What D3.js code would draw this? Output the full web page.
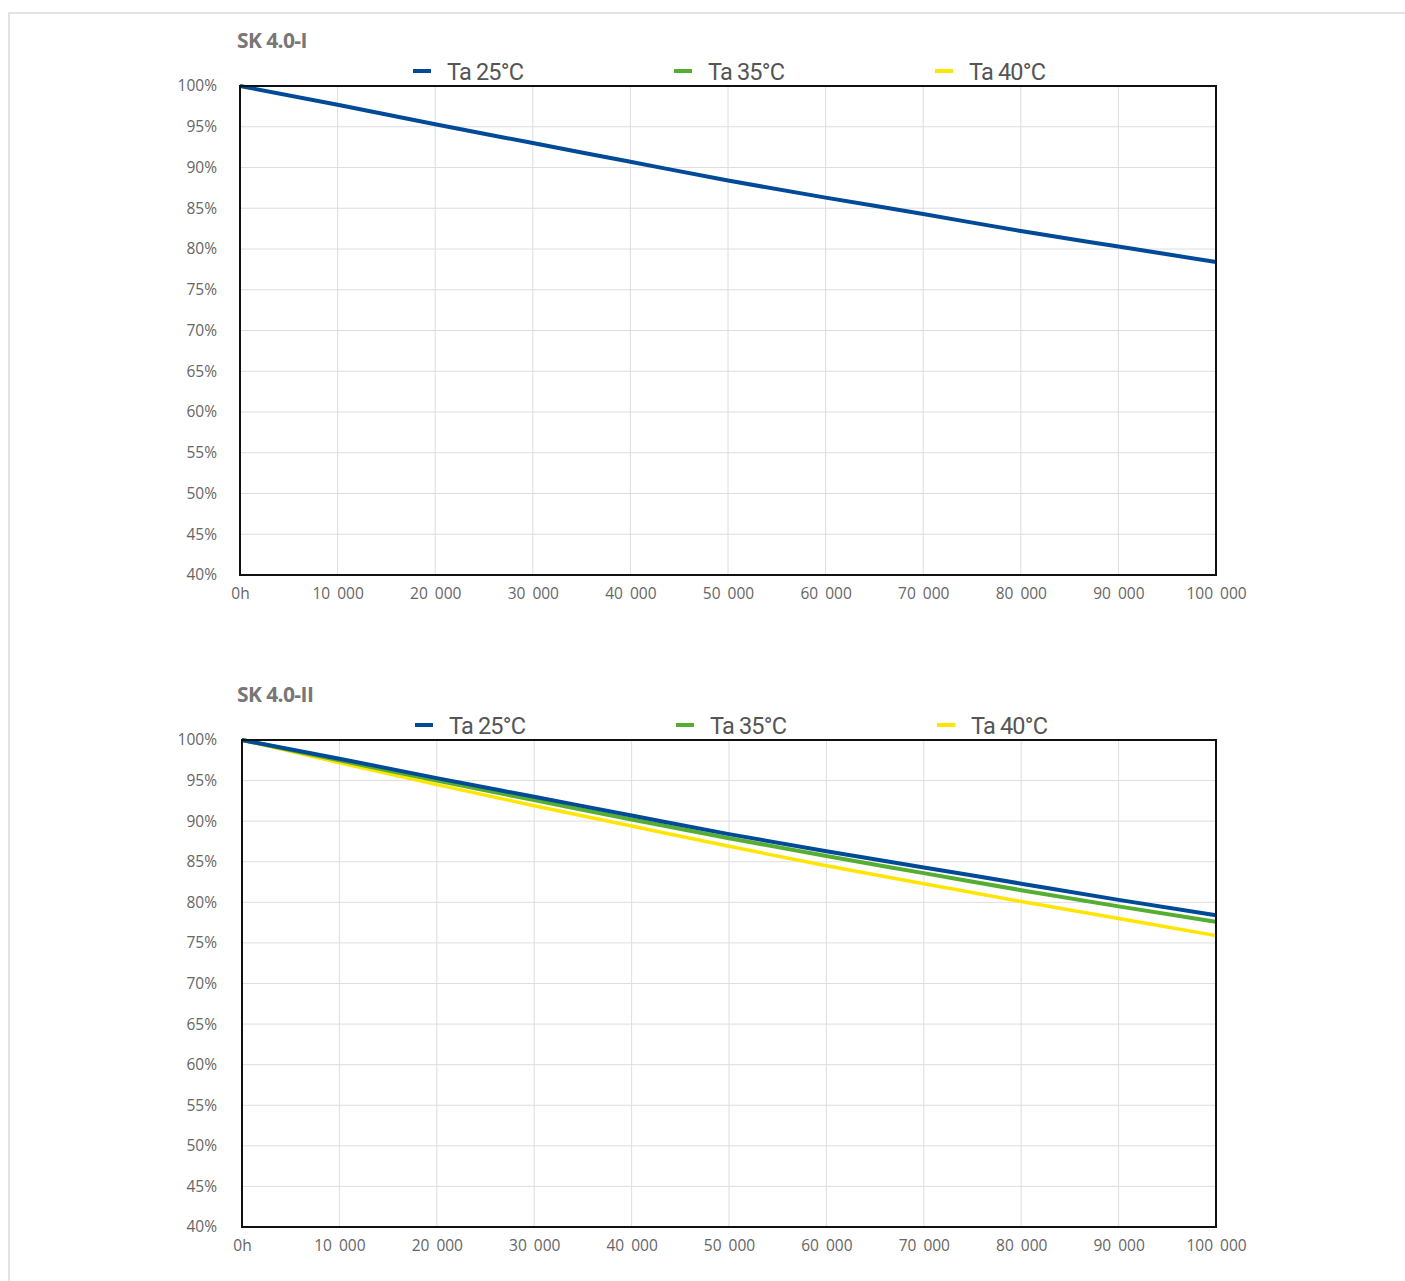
<!DOCTYPE html>
<html>
<head>
<meta charset="utf-8">
<script src="https://cdn.jsdelivr.net/npm/d3@7"></script>
<style>
  body { margin: 0; background: #fff; }
  #frame { position: absolute; left: 8px; top: 12px; width: 1420px; height: 1300px;
           border-left: 2px solid #e3e3e3; border-top: 2px solid #e3e3e3; }
  svg { position: absolute; left: 0; top: 0; }
</style>
</head>
<body>
<div id="frame"></div>
<svg id="chart" width="1405" height="1281"></svg>
<script>
// hours on x axis
const hours = [0, 10000, 20000, 30000, 40000, 50000, 60000, 70000, 80000, 90000, 100000];
const xTickLabels = ['0h', '10 000', '20 000', '30 000', '40 000', '50 000', '60 000', '70 000', '80 000', '90 000', '100 000'];
const yTicks = [40, 45, 50, 55, 60, 65, 70, 75, 80, 85, 90, 95, 100];

const seriesNames = ['Ta 25°C', 'Ta 35°C', 'Ta 40°C'];
const seriesColors = ['#004a98', '#55ad32', '#ffe500'];

// SK 4.0-I : only 25°C drawn
const sk1Ta25 = [100, 97.7, 95.3, 93.0, 90.7, 88.4, 86.3, 84.3, 82.2, 80.3, 78.4];

// SK 4.0-II
const sk2Ta25 = [100, 97.7, 95.3, 93.0, 90.7, 88.4, 86.3, 84.3, 82.3, 80.3, 78.4];
const sk2Ta35 = [100, 97.5, 95.0, 92.6, 90.2, 87.9, 85.7, 83.6, 81.5, 79.5, 77.6];
const sk2Ta40 = [100, 97.2, 94.5, 91.9, 89.4, 86.9, 84.5, 82.3, 80.1, 78.0, 75.9];

const svg = d3.select('#chart');

function drawChart(cfg) {
  const g = svg.append('g');
  const x = d3.scaleLinear().domain([0, 100000]).range([cfg.left, cfg.right]);
  const y = d3.scaleLinear().domain([40, 100]).range([cfg.bottom, cfg.top]);

  // title
  g.append('text').text(cfg.title)
    .attr('x', cfg.titleX).attr('y', cfg.titleY)
    .style('font-family', 'Open Sans, sans-serif').style('font-weight', 700)
    .style('font-size', '21px').style('fill', '#777').style('letter-spacing', '-0.6px');

  // grid
  g.append('g').selectAll('line').data(hours.slice(1, -1)).enter()
    .append('line')
    .attr('x1', d => x(d)).attr('x2', d => x(d))
    .attr('y1', cfg.top).attr('y2', cfg.bottom)
    .style('stroke', '#dedede').style('stroke-width', 1);
  g.append('g').selectAll('line').data(yTicks.slice(1, -1)).enter()
    .append('line')
    .attr('x1', cfg.left).attr('x2', cfg.right)
    .attr('y1', d => y(d)).attr('y2', d => y(d))
    .style('stroke', '#dedede').style('stroke-width', 1);

  // axes labels
  const yAxis = d3.axisLeft(y).tickValues(yTicks).tickFormat(d => d + '%').tickSize(0).tickPadding(cfg.left - 217);
  const ya = g.append('g').attr('transform', `translate(${cfg.left},0)`).call(yAxis);
  const xAxis = d3.axisBottom(x).tickValues(hours).tickFormat((d, i) => xTickLabels[i]).tickSize(0).tickPadding(13);
  const xa = g.append('g').attr('transform', `translate(0,${cfg.bottom})`).call(xAxis);
  [ya, xa].forEach(a => {
    a.select('.domain').remove();
    a.selectAll('text').style('font-family', 'Open Sans, sans-serif').style('font-size', '15.5px')
      .style('fill', '#666').style('word-spacing', '3px');
  });

  // lines
  const line = d3.line().x((d, i) => x(hours[i])).y(d => y(d)).curve(d3.curveMonotoneX);
  cfg.series.slice().reverse().forEach(s => {
    g.append('path').datum(s.values)
      .attr('d', line)
      .style('fill', 'none')
      .style('stroke', seriesColors[s.idx])
      .style('stroke-width', s.idx === 2 ? 3.5 : 4);
  });

  // frame
  g.append('rect')
    .attr('x', cfg.left).attr('y', cfg.top)
    .attr('width', cfg.right - cfg.left).attr('height', cfg.bottom - cfg.top)
    .style('fill', 'none').style('stroke', '#111').style('stroke-width', 2);

  // legend
  const lg = g.append('g').selectAll('g').data(seriesNames).enter()
    .append('g')
    .attr('transform', (d, i) => `translate(${cfg.legendX + i * 261},${cfg.legendY})`);
  lg.append('line').attr('x1', 0).attr('x2', 18).attr('y1', 0).attr('y2', 0)
    .style('stroke', (d, i) => seriesColors[i]).style('stroke-width', 4);
  lg.append('text').text(d => d)
    .attr('x', 34).attr('y', 9)
    .style('font-family', 'Roboto, sans-serif').style('font-size', '23.5px')
    .style('fill', '#555').style('letter-spacing', '-0.8px');
}

drawChart({
  title: 'SK 4.0-I', titleX: 237, titleY: 48,
  left: 240, right: 1216, top: 86, bottom: 575,
  legendX: 413, legendY: 71,
  series: [{ idx: 0, values: sk1Ta25 }]
});

drawChart({
  title: 'SK 4.0-II', titleX: 237, titleY: 702,
  left: 242, right: 1216, top: 740, bottom: 1227,
  legendX: 415, legendY: 725,
  series: [{ idx: 0, values: sk2Ta25 }, { idx: 1, values: sk2Ta35 }, { idx: 2, values: sk2Ta40 }]
});
</script>
</body>
</html>
